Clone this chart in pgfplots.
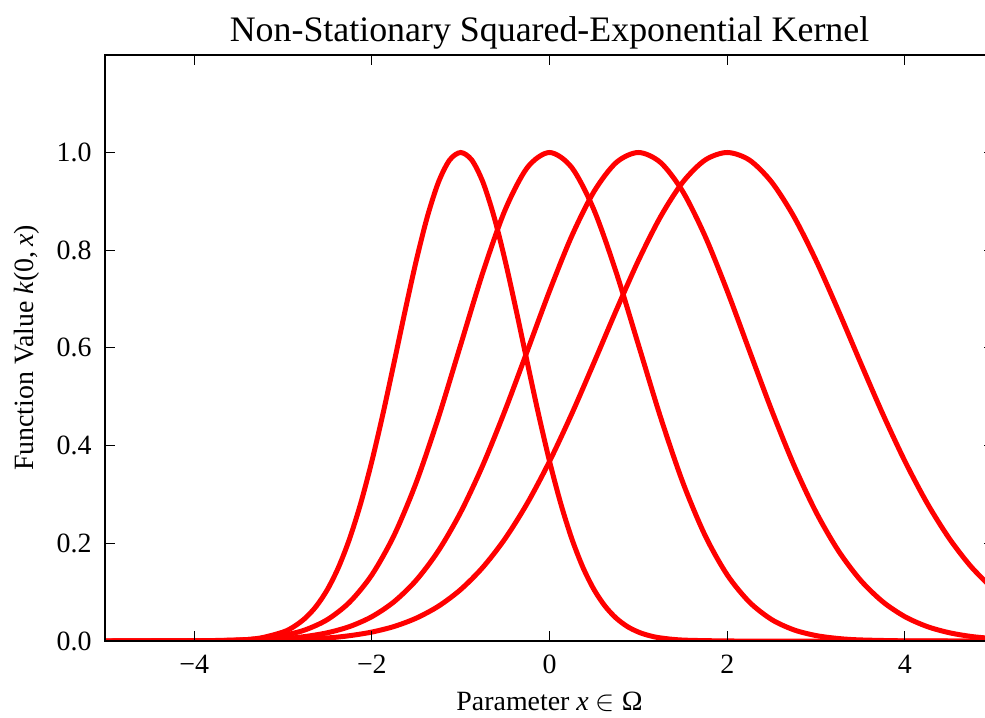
\documentclass[border=0pt]{standalone}
\usepackage{fontspec}
\setmainfont{Liberation Serif}
\usepackage{pgfplots}
\pgfplotsset{compat=1.18}

\newcommand{\lblfont}{\fontsize{14}{16}\selectfont}
\tikzset{kernel/.style={red, line width=2.5bp, smooth, mark=none}}

\begin{document}
\begin{tikzpicture}
% page frame: the right spine of the axis falls just outside it
\useasboundingbox (-52.65bp,-38.5bp) rectangle (439.85bp,320.5bp);
\begin{axis}[
  at={(0,0)}, anchor=south west,
  scale only axis,
  width=444.25bp, height=293.1bp,
  xmin=-5, xmax=5, ymin=0, ymax=1.2,
  xtick={-4,-2,0,2,4},
  xticklabels={−4,−2,0,2,4},
  ytick={0,0.2,0.4,0.6,0.8,1.0},
  yticklabels={0.0,0.2,0.4,0.6,0.8,1.0},
  tick align=inside,
  major tick length=5bp,
  every tick/.style={black, line width=0.5bp},
  axis line style={black, line width=1.2bp},
  axis on top,
  xticklabel style={font=\lblfont, anchor=base, inner sep=0pt, yshift=-16.25bp},
  yticklabel style={font=\lblfont, anchor=east, inner sep=0pt, xshift=-6.65bp},
  title={Non-Stationary Squared-Exponential Kernel},
  every axis title/.style={at={(axis description cs:0.5,1.02235)}, anchor=base,
    inner sep=0pt, font=\fontsize{18}{21}\selectfont},
  xlabel={Parameter \textit{x} $\in$ Ω},
  every axis x label/.style={at={(axis description cs:0.5,-0.1177)}, anchor=base,
    inner sep=0pt, font=\lblfont},
  ylabel={Function Value \textit{k}(0,\,\textit{x})},
  every axis y label/.style={at={(axis description cs:-0.0803,0.5)}, rotate=90,
    anchor=base, inner sep=0pt, font=\lblfont},
]

% centre -1, variance 0.5
\addplot[kernel] coordinates {
(-5,0) (-4.5,0) (-4,0.0001) (-3.5,0.0019) (-3.25,0.0063) (-3,0.0183)
(-2.875,0.0297) (-2.75,0.0468) (-2.625,0.0713) (-2.5,0.1054) (-2.375,0.1510)
(-2.25,0.2096) (-2.125,0.2821) (-2,0.3679) (-1.875,0.4650) (-1.75,0.5698)
(-1.625,0.6766) (-1.5,0.7788) (-1.375,0.8688) (-1.25,0.9394) (-1.125,0.9845)
(-1,1) (-0.875,0.9845) (-0.75,0.9394) (-0.625,0.8688) (-0.5,0.7788)
(-0.375,0.6766) (-0.25,0.5698) (-0.125,0.4650) (0,0.3679) (0.125,0.2821)
(0.25,0.2096) (0.375,0.1510) (0.5,0.1054) (0.625,0.0713) (0.75,0.0468)
(0.875,0.0297) (1,0.0183) (1.125,0.0109) (1.25,0.0063) (1.5,0.0019)
(2,0.0001) (2.5,0) (3,0) (4,0) (5,0)
};

% centre 0, variance 1
\addplot[kernel] coordinates {
(-5,0) (-4.5,0) (-4,0.0003) (-3.5,0.0022) (-3.25,0.0051) (-3,0.0111)
(-2.75,0.0228) (-2.5,0.0439) (-2.25,0.0796) (-2,0.1353) (-1.75,0.2163)
(-1.5,0.3247) (-1.25,0.4578) (-1,0.6065) (-0.75,0.7548) (-0.5,0.8825)
(-0.25,0.9692) (0,1) (0.25,0.9692) (0.5,0.8825) (0.75,0.7548) (1,0.6065)
(1.25,0.4578) (1.5,0.3247) (1.75,0.2163) (2,0.1353) (2.25,0.0796)
(2.5,0.0439) (2.75,0.0228) (3,0.0111) (3.25,0.0051) (3.5,0.0022)
(4,0.0003) (4.5,0) (5,0)
};

% centre 1, variance 1.5
\addplot[kernel] coordinates {
(-5,0) (-4,0.0002) (-3.5,0.0012) (-3,0.0048) (-2.75,0.0092) (-2.5,0.0169)
(-2.25,0.0296) (-2,0.0498) (-1.75,0.0804) (-1.5,0.1245) (-1.25,0.1850)
(-1,0.2636) (-0.75,0.3603) (-0.5,0.4724) (-0.25,0.5940) (0,0.7165)
(0.25,0.8290) (0.5,0.9200) (0.75,0.9794) (1,1) (1.25,0.9794) (1.5,0.9200)
(1.75,0.8290) (2,0.7165) (2.25,0.5940) (2.5,0.4724) (2.75,0.3603)
(3,0.2636) (3.25,0.1850) (3.5,0.1245) (3.75,0.0804) (4,0.0498)
(4.25,0.0296) (4.5,0.0169) (4.75,0.0092) (5,0.0048)
};

% centre 2, variance 2
\addplot[kernel] coordinates {
(-5,0) (-4,0.0001) (-3.5,0.0005) (-3,0.0019) (-2.5,0.0063) (-2.25,0.0109)
(-2,0.0183) (-1.75,0.0297) (-1.5,0.0468) (-1.25,0.0713) (-1,0.1054)
(-0.75,0.1510) (-0.5,0.2096) (-0.25,0.2821) (0,0.3679) (0.25,0.4650)
(0.5,0.5698) (0.75,0.6766) (1,0.7788) (1.25,0.8688) (1.5,0.9394)
(1.75,0.9845) (2,1) (2.25,0.9845) (2.5,0.9394) (2.75,0.8688) (3,0.7788)
(3.25,0.6766) (3.5,0.5698) (3.75,0.4650) (4,0.3679) (4.25,0.2821)
(4.5,0.2096) (4.75,0.1510) (5,0.1054)
};
\end{axis}
\end{tikzpicture}
\end{document}
